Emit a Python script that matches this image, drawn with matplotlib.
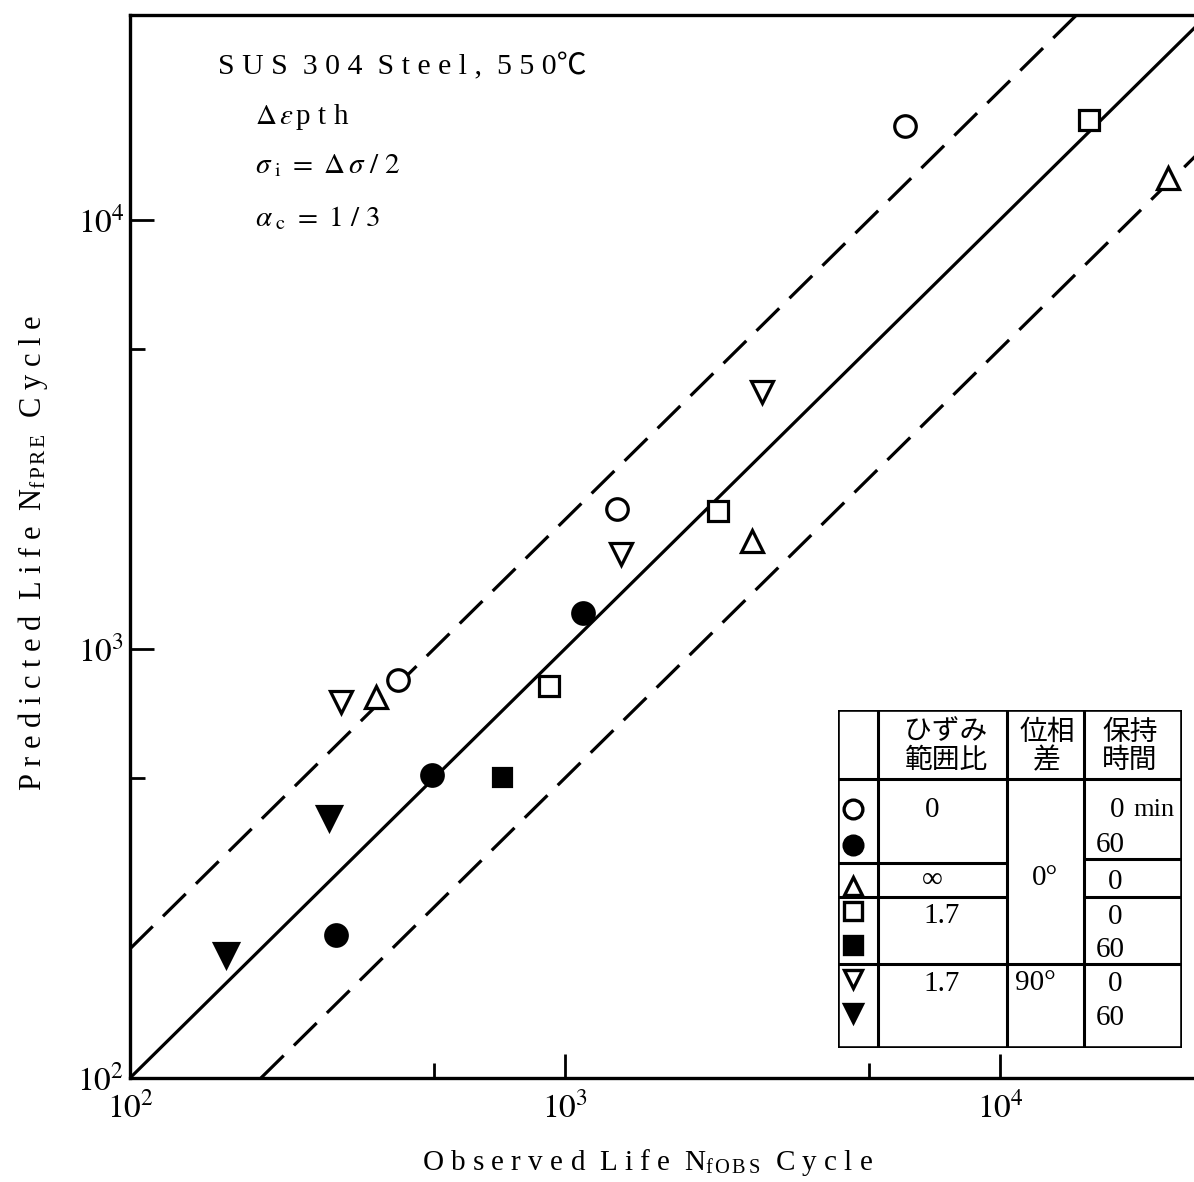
import matplotlib
matplotlib.use("Agg")
import matplotlib.pyplot as plt
import numpy as np

plt.rcParams['font.family'] = ['Liberation Serif', 'Noto Sans CJK JP']
plt.rcParams['mathtext.fontset'] = 'stix'

# observed / predicted life, one pair of lists per test condition
open_circle_obs = [413, 1318, 6050]
open_circle_pre = [847, 2119, 16560]
filled_circle_obs = [298, 494, 1099]
filled_circle_pre = [215, 509, 1213]
open_tri_obs = [368, 2692, 24300]
open_tri_pre = [773, 1782, 12530]
open_square_obs = [918, 2249, 16030]
open_square_pre = [820, 2094, 17100]
filled_square_obs = [716]
filled_square_pre = [503]
open_vtri_obs = [305, 1346, 2838]
open_vtri_pre = [753, 1664, 3963]
filled_vtri_obs = [166, 286]
filled_vtri_pre = [193, 403]

lims = [1e2, 3e4]
band = 2.0  # factor-of-two scatter band


def spread(s):
    # wide letter spacing as in typeset figures
    return '  '.join(' '.join(w) for w in s.split(' '))


fig = plt.figure(figsize=(11.94, 11.82), dpi=100)
ax = fig.add_axes([130 / 1194, 104 / 1182, 1077.5 / 1194, 1063 / 1182])
ax.set_xscale('log')
ax.set_yscale('log')
ax.set_xlim(lims)
ax.set_ylim(lims)

k = dict(color='black', lw=2.3)
ax.plot(lims, lims, '-', **k)
ax.plot([lims[0], lims[1] / band], [lims[0] * band, lims[1]], '--', dashes=(10, 4.5), **k)
ax.plot([lims[0] * band, lims[1]], [lims[0], lims[1] / band], '--', dashes=(10, 4.5), **k)

m = dict(linestyle='none', color='black', mew=2.3, ms=15.5, clip_on=False)
ax.plot(open_circle_obs, open_circle_pre, 'o', mfc='white', **m)
ax.plot(filled_circle_obs, filled_circle_pre, 'o', mfc='black', **m)
ax.plot(open_tri_obs, open_tri_pre, '^', mfc='white', **m)
ax.plot(open_square_obs, open_square_pre, 's', mfc='white', **dict(m, ms=14))
ax.plot(filled_square_obs, filled_square_pre, 's', mfc='black', **dict(m, ms=13))
ax.plot(open_vtri_obs, open_vtri_pre, 'v', mfc='white', **m)
ax.plot(filled_vtri_obs, filled_vtri_pre, 'v', mfc='black', **dict(m, ms=17))

for s in ax.spines.values():
    s.set_linewidth(2.4)
ax.set_xticks([1e2, 1e3, 1e4])
ax.set_yticks([1e2, 1e3, 1e4])
ax.set_xticks([5e2, 5e3], minor=True)
ax.set_yticks([5e2, 5e3], minor=True)
ax.set_xticklabels([r'$10^{2}$', r'$10^{3}$', r'$10^{4}$'])
ax.set_yticklabels([r'$10^{2}$', r'$10^{3}$', r'$10^{4}$'])
ax.set_xticklabels([], minor=True)
ax.set_yticklabels([], minor=True)
ax.tick_params(which='both', direction='in', width=2.0, labelsize=24)
ax.tick_params(which='major', length=17)
ax.tick_params(which='minor', length=11)
ax.tick_params(axis='x', pad=10)
ax.tick_params(axis='y', pad=4)

fig.text(648 / 1194, 1 - 1163 / 1182,
         spread('Observed Life') + r'  N$_{\mathregular{f\,O\,B\,S}}$  ' + spread('Cycle'),
         fontsize=21, ha='center', va='center')
fig.text(33 / 1194, 1 - 553 / 1182,
         spread('Predicted Life') + r'  N$_{\mathregular{f\,P\,R\,E}}$  ' + spread('Cycle'),
         fontsize=22, rotation=90, ha='center', va='center')

ax.text(0.082, 0.944, spread('SUS 304 Steel,') + '  ' + ' '.join('550') + '℃',
        transform=ax.transAxes, fontsize=21.5, va='baseline')
ax.text(0.116, 0.897, r'$\mathit{\Delta}\,\varepsilon\,$p t h',
        transform=ax.transAxes, fontsize=21, va='baseline')
ax.text(0.116, 0.851, r'$\sigma_{\ \mathrm{i}}\ =\ \mathit{\Delta}\,\sigma\ /\ 2$',
        transform=ax.transAxes, fontsize=21, va='baseline')
ax.text(0.116, 0.801, r'$\alpha_{\ \mathrm{c}}\ =\ 1\ /\ 3$',
        transform=ax.transAxes, fontsize=21, va='baseline')

# condition table (local pixel units, y downward)
tw, th = 344, 338
tab = fig.add_axes([838 / 1194, (1182 - 1048) / 1182, tw / 1194, th / 1182])
tab.set_xlim(0, tw)
tab.set_ylim(th, 0)
tab.axis('off')
lk = dict(color='black', lw=2.2, solid_capstyle='butt')
tab.plot([0, tw, tw, 0, 0], [0, 0, th, th, 0], lw=2.6, color='black')
for cx in [40, 169, 246]:
    tab.plot([cx, cx], [0, th], **lk)
tab.plot([0, tw], [69, 69], **lk)
tab.plot([0, tw], [254, 254], **lk)
tab.plot([0, 169], [153, 153], **lk)
tab.plot([0, 169], [187, 187], **lk)
tab.plot([246, tw], [149, 149], **lk)
tab.plot([246, tw], [187, 187], **lk)

hk = dict(fontsize=20, ha='center', va='center')
tab.text(108, 23, 'ひずみ', **hk)
tab.text(108, 51, '範囲比', **hk)
tab.text(209, 23, '位相', **hk)
tab.text(209, 51, '差', **hk)
tab.text(292, 23, '保持', **hk)
tab.text(292, 51, '時間', **hk)

legend_marks = [('o', 'white', 99), ('o', 'black', 135), ('^', 'white', 176),
                ('s', 'white', 201), ('s', 'black', 235), ('v', 'white', 269),
                ('v', 'black', 303)]
for mk, fc, yy in legend_marks:
    tab.plot([15], [yy], mk, mfc=fc, mec='black', mew=2.4, ms=13.5)

vk = dict(fontsize=21, ha='center', va='center')
tab.text(94, 100, '0', **vk)
tab.text(94, 170, '∞', **vk)
tab.text(104, 206, '1.7', **vk)
tab.text(104, 274, '1.7', **vk)
tab.text(207, 168, '0°', **vk)
tab.text(197, 273, '90°', **vk)
tab.text(279, 100, '0', **vk)
tab.text(295, 100, 'min', fontsize=19, ha='left', va='center')
tab.text(272, 135, '60', **vk)
tab.text(277, 172, '0', **vk)
tab.text(277, 207, '0', **vk)
tab.text(272, 240, '60', **vk)
tab.text(277, 274, '0', **vk)
tab.text(272, 308, '60', **vk)

fig.savefig('out.png', dpi=100)
